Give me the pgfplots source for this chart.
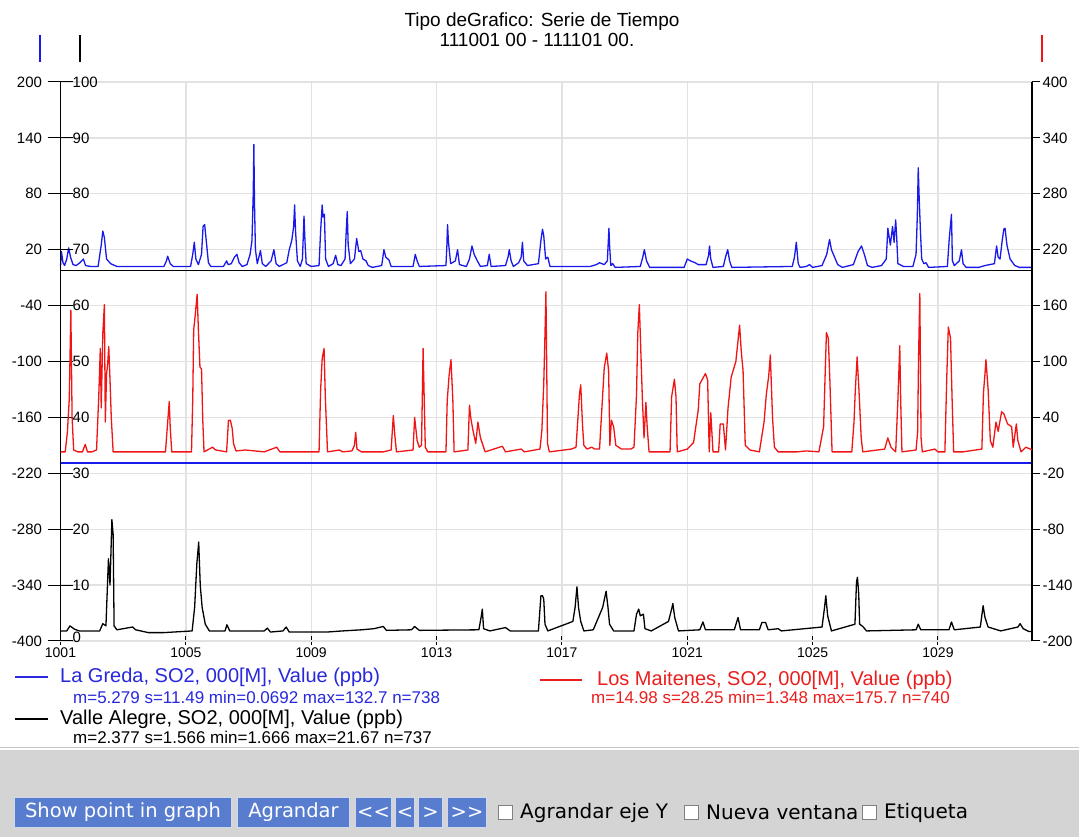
\documentclass[border=0pt]{standalone}
\usepackage{pgfplots}
\pgfplotsset{compat=1.18}
\usepackage{graphicx}
\usepackage{fontspec}
\setmainfont{Liberation Sans}
\newfontfamily\dejavu{DejaVu Sans}
\definecolor{gridc}{RGB}{226,226,226}
\definecolor{serblue}{RGB}{25,25,235}
\definecolor{serred}{RGB}{240,20,20}
\definecolor{legblue}{RGB}{40,40,220}
\definecolor{legred}{RGB}{235,30,30}
\definecolor{btn}{RGB}{88,124,206}
\definecolor{panel}{RGB}{212,212,212}
\pgfplotsset{
  base/.style={at={(60.5pt,196pt)}, anchor=south west, scale only axis,
    width=971.5pt, height=559pt, xmin=1001, xmax=1032, clip=false,
    scaled ticks=false,
    ticklabel style={font=\fontsize{15}{17}\selectfont},
  }
}
\begin{document}
\begin{tikzpicture}[x=1pt,y=1pt]
\path[use as bounding box, fill=white] (0,0) rectangle (1079,837);
\fill[panel] (0,0) rectangle (1079,87);
\draw[gray!45, line width=1pt] (0,89) -- (1079,89);

% title
\node[font=\fontsize{19}{21}\selectfont, inner sep=0pt] at (542,815) {Tipo deGrafico: Serie de Tiempo};
\node[font=\fontsize{19}{21}\selectfont, inner sep=0pt] at (537,797) {111001 00 - 111101 00.};
% axis colour markers
\draw[serblue, line width=1.3pt] (40,775) -- (40,802);
\draw[black, line width=1.3pt] (80,775) -- (80,802);
\draw[serred, line width=1.3pt] (1042,775) -- (1042,802);

% ---------- x axis, vertical grid ----------
\begin{axis}[base, ymin=0, ymax=1,
  axis x line*=bottom, axis y line=none,
  x axis line style={-, black, line width=1.4pt},
  xtick={1001,1005,1009,1013,1017,1021,1025,1029},
  xticklabels={1001,1005,1009,1013,1017,1021,1025,1029},
  xmajorgrids, grid style={gridc, line width=1.3pt},
  tick align=center, major tick length=9pt,
  xtick style={black, line width=1pt},
  xticklabel style={font=\fontsize{14}{16}\selectfont, yshift=1pt}]
\addplot[draw=none] coordinates {(1001,0)};
\end{axis}

% ---------- axis A: La Greda (-400..200) ----------
\begin{axis}[base, ymin=-400, ymax=200,
  axis x line=none, axis y line*=left,
  y axis line style={-, black, line width=1.4pt},
  ytick={-400,-340,-280,-220,-160,-100,-40,20,80,140,200},
  yticklabels={-400,-340,-280,-220,-160,-100,-40,20,80,140,200},
  ymajorgrids, grid style={gridc, line width=1.3pt},
  tick align=center, major tick length=26pt,
  ytick style={black, line width=1pt},
  yticklabel style={xshift=-2pt}]
\addplot[serblue, line width=1.3pt, line join=round] coordinates {
(1001.00,2) (1001.03,18) (1001.08,6) (1001.13,3) (1001.2,10) (1001.26,22) (1001.32,12) (1001.4,4) (1001.5,3) (1001.62,6) (1001.73,10) (1001.8,3) (1001.95,2) (1002.2,2) (1002.3,25) (1002.35,40) (1002.4,33) (1002.47,10) (1002.6,5) (1002.8,2) (1004.3,2) (1004.38,8) (1004.42,13) (1004.5,5) (1004.6,2) (1005.15,2) (1005.22,15) (1005.27,28) (1005.32,10) (1005.4,4) (1005.5,15) (1005.55,45) (1005.6,47) (1005.65,30) (1005.72,6) (1005.8,2) (1006.2,2) (1006.3,8) (1006.35,4) (1006.45,5) (1006.55,12) (1006.63,15) (1006.7,6) (1006.8,2) (1006.95,4) (1007.05,15) (1007.11,30) (1007.15,80) (1007.17,133) (1007.19,70) (1007.22,20) (1007.28,5) (1007.38,19) (1007.44,5) (1007.55,2) (1007.72,8) (1007.81,20) (1007.88,5) (1007.98,2) (1008.22,6) (1008.3,20) (1008.38,30) (1008.44,45) (1008.47,68) (1008.5,40) (1008.56,8) (1008.65,2) (1008.72,10) (1008.77,56) (1008.8,30) (1008.84,5) (1009.0,2) (1009.25,3) (1009.3,40) (1009.35,68) (1009.38,55) (1009.42,58) (1009.46,10) (1009.55,2) (1009.7,5) (1009.78,14) (1009.85,4) (1009.95,3) (1010.08,10) (1010.12,42) (1010.15,61) (1010.18,25) (1010.25,5) (1010.38,10) (1010.45,32) (1010.52,18) (1010.58,19) (1010.65,10) (1010.75,8) (1010.82,3) (1010.95,1) (1011.25,3) (1011.32,20) (1011.38,12) (1011.48,9) (1011.55,2) (1012.25,2) (1012.32,15) (1012.38,8) (1012.45,2) (1013.3,3) (1013.33,25) (1013.35,47) (1013.38,28) (1013.45,5) (1013.6,8) (1013.67,20) (1013.73,4) (1013.95,2) (1014.05,10) (1014.13,24) (1014.2,15) (1014.3,8) (1014.4,2) (1014.62,3) (1014.68,15) (1014.74,2) (1015.2,3) (1015.28,12) (1015.32,20) (1015.38,8) (1015.45,2) (1015.62,6) (1015.7,12) (1015.74,28) (1015.78,8) (1015.9,3) (1016.25,5) (1016.33,30) (1016.38,42) (1016.42,35) (1016.48,10) (1016.55,12) (1016.62,2) (1017.9,2) (1018.1,4) (1018.2,6) (1018.35,4) (1018.45,8) (1018.5,43) (1018.52,25) (1018.56,3) (1018.62,5) (1018.7,1) (1019.5,2) (1019.58,12) (1019.63,20) (1019.7,8) (1019.8,1) (1020.9,1) (1021.0,10) (1021.1,8) (1021.25,6) (1021.35,4) (1021.6,4) (1021.68,14) (1021.71,24) (1021.75,10) (1021.82,1) (1022.15,2) (1022.22,12) (1022.29,20) (1022.35,8) (1022.42,1) (1024.35,2) (1024.42,12) (1024.48,28) (1024.54,5) (1024.6,1) (1024.8,2) (1024.9,4) (1025.0,1) (1025.3,3) (1025.45,15) (1025.54,31) (1025.6,20) (1025.7,12) (1025.8,4) (1025.95,1) (1026.3,4) (1026.45,18) (1026.56,24) (1026.65,15) (1026.75,3) (1026.9,1) (1027.2,3) (1027.35,10) (1027.4,43) (1027.48,25) (1027.55,45) (1027.6,28) (1027.65,52) (1027.68,35) (1027.72,5) (1027.9,2) (1028.2,2) (1028.3,15) (1028.34,56) (1028.37,108) (1028.4,75) (1028.44,40) (1028.48,10) (1028.55,5) (1028.62,6) (1028.7,1) (1029.3,2) (1029.36,32) (1029.43,58) (1029.46,8) (1029.52,3) (1029.68,8) (1029.75,20) (1029.8,5) (1029.9,1) (1030.3,1) (1030.5,3) (1030.8,5) (1030.87,24) (1030.92,12) (1030.98,10) (1031.05,30) (1031.1,42) (1031.14,43) (1031.2,25) (1031.3,10) (1031.45,3) (1031.6,1) (1032,1)
};
\addplot[black, line width=1.4pt] coordinates {(1001,-2.4) (1032,-2.4)};
\addplot[serblue, line width=1.7pt] coordinates {(1001,-208.6) (1032,-208.6)};
\end{axis}

% ---------- axis B: Valle Alegre (0..100) ----------
\begin{axis}[base, ymin=0, ymax=100,
  axis x line=none, axis y line*=left,
  y axis line style={-, black, line width=1.4pt},
  ytick={0,10,...,100},
  yticklabels={\raisebox{8pt}{0},10,20,30,40,50,60,70,80,90,100},
  tick align=inside, major tick length=11pt,
  ytick style={black, line width=1pt},
  yticklabel style={anchor=west, xshift=11pt, inner sep=1pt}]
\addplot[black, line width=1.3pt, line join=round] coordinates {
(1001.0,1.8) (1001.2,1.8) (1001.3,2.7) (1001.45,2.1) (1001.6,1.8) (1002.25,1.8) (1002.35,3.1) (1002.45,2.7) (1002.53,14.7) (1002.58,10) (1002.64,21.7) (1002.68,19) (1002.71,2.7) (1002.8,2.0) (1003.3,2.5) (1003.4,2.0) (1003.8,1.5) (1004.3,1.5) (1005.2,1.8) (1005.28,6) (1005.35,13.8) (1005.41,17.7) (1005.46,9.9) (1005.52,6) (1005.62,3) (1005.75,1.8) (1006.25,1.8) (1006.31,2.9) (1006.4,1.8) (1007.5,1.8) (1007.6,2.3) (1007.7,1.6) (1008.1,1.8) (1008.2,2.5) (1008.3,1.6) (1009.5,1.6) (1010.0,1.8) (1010.6,2.0) (1011.0,2.2) (1011.3,2.6) (1011.4,1.9) (1012.2,2.0) (1012.3,2.6) (1012.45,1.9) (1014.35,2) (1014.42,4.2) (1014.46,5.7) (1014.5,2.2) (1014.7,1.8) (1015.2,2.4) (1015.35,1.8) (1016.25,1.8) (1016.33,8.1) (1016.38,8.1) (1016.42,7.5) (1016.46,3) (1016.55,1.8) (1017.35,3.5) (1017.42,6) (1017.48,9.7) (1017.53,6) (1017.6,3.5) (1017.7,1.8) (1018.0,2) (1018.3,6) (1018.41,8.9) (1018.47,6) (1018.52,3) (1018.65,1.8) (1019.3,1.8) (1019.38,4.8) (1019.45,5.7) (1019.5,4.5) (1019.6,4.8) (1019.65,2.2) (1019.85,1.8) (1020.4,3.5) (1020.5,5.7) (1020.54,6.7) (1020.6,4.2) (1020.72,1.8) (1021.4,2.0) (1021.5,3.4) (1021.58,2.0) (1022.5,2) (1022.62,4.2) (1022.7,2.0) (1023.3,2.0) (1023.38,3.3) (1023.5,3.3) (1023.58,2.0) (1023.9,2.2) (1024.0,1.8) (1025.3,2.5) (1025.38,6) (1025.42,8.1) (1025.48,4.5) (1025.6,1.8) (1026.35,3) (1026.4,10.6) (1026.43,11.4) (1026.47,8.5) (1026.5,3.0) (1026.6,2.6) (1026.72,1.8) (1028.3,2.0) (1028.37,3.0) (1028.45,2.0) (1029.35,2.0) (1029.43,3.4) (1029.52,2.0) (1030.35,2.5) (1030.44,6.3) (1030.5,4.2) (1030.6,2.5) (1031.0,1.8) (1031.55,2.5) (1031.62,3.1) (1031.72,2.2) (1031.9,1.7) (1032,1.7)
};
\end{axis}

% ---------- axis C: Los Maitenes (-200..400) ----------
\begin{axis}[base, ymin=-200, ymax=400,
  axis x line=none, axis y line*=right,
  y axis line style={-, black, line width=1.4pt},
  ytick={-200,-140,-80,-20,40,100,160,220,280,340,400},
  yticklabels={-200,-140,-80,-20,40,100,160,220,280,340,400},
  tick align=outside, major tick length=8pt,
  ytick style={black, line width=1pt},
  yticklabel style={xshift=-1pt}]
\addplot[serred, line width=1.3pt, line join=round] coordinates {
(1001.0,3) (1001.15,3) (1001.22,24) (1001.28,60) (1001.33,155) (1001.37,40) (1001.42,5) (1001.55,3) (1001.7,3) (1001.79,11) (1001.86,3) (1002.0,3) (1002.15,5) (1002.22,62) (1002.27,114) (1002.3,50) (1002.35,130) (1002.4,161) (1002.43,35) (1002.47,87) (1002.5,95) (1002.54,116) (1002.58,80) (1002.62,40) (1002.68,3) (1004.35,3) (1004.4,26) (1004.47,57) (1004.5,30) (1004.55,3) (1005.18,3) (1005.22,60) (1005.25,134) (1005.3,150) (1005.36,172) (1005.4,134) (1005.45,94) (1005.5,92) (1005.54,37) (1005.58,3) (1005.85,8) (1005.95,5) (1006.3,3) (1006.36,37) (1006.42,37) (1006.48,28) (1006.52,12) (1006.6,4) (1006.9,5) (1007.5,3) (1007.9,8) (1008.0,3) (1009.25,3) (1009.3,69) (1009.35,103) (1009.41,114) (1009.45,62) (1009.52,3) (1009.9,5) (1010.0,3) (1010.3,4) (1010.38,10) (1010.42,24) (1010.46,6) (1010.6,3) (1011.3,3) (1011.55,5) (1011.62,42) (1011.67,20) (1011.72,3) (1012.25,5) (1012.3,40) (1012.38,15) (1012.45,8) (1012.52,10) (1012.57,114) (1012.6,69) (1012.64,8) (1012.72,3) (1013.3,3) (1013.34,58) (1013.4,85) (1013.46,102) (1013.52,58) (1013.56,3) (1014.0,5) (1014.05,53) (1014.09,40) (1014.15,28) (1014.25,12) (1014.32,35) (1014.4,18) (1014.55,3) (1015.1,9) (1015.2,3) (1015.7,6) (1015.8,3) (1016.3,6) (1016.36,26) (1016.42,76) (1016.46,130) (1016.49,175) (1016.54,12) (1016.6,3) (1017.3,6) (1017.45,8) (1017.52,44) (1017.56,65) (1017.6,75) (1017.66,30) (1017.7,10) (1017.8,6) (1017.95,8) (1018.05,6) (1018.2,6) (1018.35,93) (1018.43,109) (1018.49,90) (1018.53,10) (1018.58,37) (1018.65,30) (1018.72,10) (1018.9,6) (1019.2,6) (1019.3,8) (1019.38,64) (1019.42,130) (1019.47,161) (1019.52,109) (1019.57,57) (1019.62,18) (1019.68,56) (1019.72,30) (1019.78,3) (1020.45,3) (1020.5,62) (1020.59,81) (1020.64,62) (1020.68,3) (1021.0,6) (1021.2,13) (1021.35,48) (1021.4,76) (1021.58,87) (1021.65,80) (1021.7,3) (1021.75,45) (1021.82,3) (1022.0,3) (1022.05,33) (1022.15,33) (1022.22,5) (1022.3,50) (1022.4,83) (1022.55,100) (1022.67,139) (1022.72,112) (1022.78,90) (1022.85,10) (1023.0,5) (1023.3,3) (1023.45,35) (1023.52,64) (1023.6,85) (1023.65,107) (1023.72,40) (1023.78,8) (1023.9,3) (1024.5,3) (1024.8,4) (1025.2,3) (1025.35,30) (1025.4,87) (1025.44,131) (1025.5,125) (1025.55,80) (1025.62,3) (1026.25,3) (1026.32,35) (1026.36,68) (1026.42,105) (1026.48,68) (1026.55,18) (1026.6,3) (1027.3,6) (1027.4,18) (1027.5,8) (1027.65,3) (1027.72,58) (1027.78,117) (1027.81,58) (1027.85,3) (1028.3,5) (1028.35,24) (1028.38,105) (1028.42,173) (1028.46,18) (1028.5,3) (1028.9,6) (1029.0,3) (1029.22,3) (1029.28,83) (1029.33,137) (1029.4,125) (1029.45,60) (1029.5,3) (1029.8,3) (1030.4,6) (1030.45,66) (1030.5,87) (1030.53,102) (1030.6,70) (1030.67,15) (1030.75,8) (1030.85,35) (1030.92,25) (1031.03,46) (1031.1,44) (1031.22,33) (1031.35,30) (1031.4,8) (1031.5,33) (1031.55,15) (1031.65,3) (1031.8,8) (1031.95,6) (1032,5)
};
\end{axis}

% ---------- legend ----------
\draw[legblue, line width=1.3pt] (15,160) -- (48,160);
\node[anchor=west, inner sep=0pt, text=legblue, font=\fontsize{20}{22}\selectfont] at (60,160) {La Greda, SO2, 000[M], Value (ppb)};
\node[anchor=west, inner sep=0pt, text=legblue, font=\fontsize{17}{19}\selectfont] at (73,140) {m=5.279 s=11.49 min=0.0692 max=132.7 n=738};
\draw[legred, line width=1.3pt] (540,157) -- (582,157);
\node[anchor=west, inner sep=0pt, text=legred, font=\fontsize{20}{22}\selectfont] at (597,157) {Los Maitenes, SO2, 000[M], Value (ppb)};
\node[anchor=west, inner sep=0pt, text=legred, font=\fontsize{17}{19}\selectfont] at (591,140) {m=14.98 s=28.25 min=1.348 max=175.7 n=740};
\draw[black, line width=1.3pt] (15,118) -- (48,118);
\node[anchor=west, inner sep=0pt, font=\fontsize{20}{22}\selectfont] at (60,118) {Valle Alegre, SO2, 000[M], Value (ppb)};
\node[anchor=west, inner sep=0pt, font=\fontsize{17}{19}\selectfont] at (73,100) {m=2.377 s=1.566 min=1.666 max=21.67 n=737};

% ---------- buttons ----------
\foreach \xa/\xb/\t in {14/232/Show point in graph, 237/350/Agrandar, 355/392/{<<}, 395/415/{<}, 418/443/{>}, 447/487/{>>}}{
  \fill[btn] (\xa,9) rectangle (\xb,40);
  \draw[white!70!btn, line width=1pt] (\xa+0.5,9.5) rectangle (\xb-0.5,39.5);
  \node[text=white, font=\dejavu\fontsize{19.5}{21}\selectfont, inner sep=0pt] at ({(\xa+\xb)/2},24.5) {\t};
}
\foreach \xc/\t in {498/Agrandar eje Y, 684/Nueva ventana, 862/Etiqueta}{
  \fill[white] (\xc,18) rectangle (\xc+14,32);
  \draw[gray, line width=0.8pt] (\xc,18) rectangle (\xc+14,32);
  \node[anchor=west, inner sep=0pt, font=\dejavu\fontsize{20}{22}\selectfont] at (\xc+22,24.5) {\t};
}
\end{tikzpicture}
\end{document}
